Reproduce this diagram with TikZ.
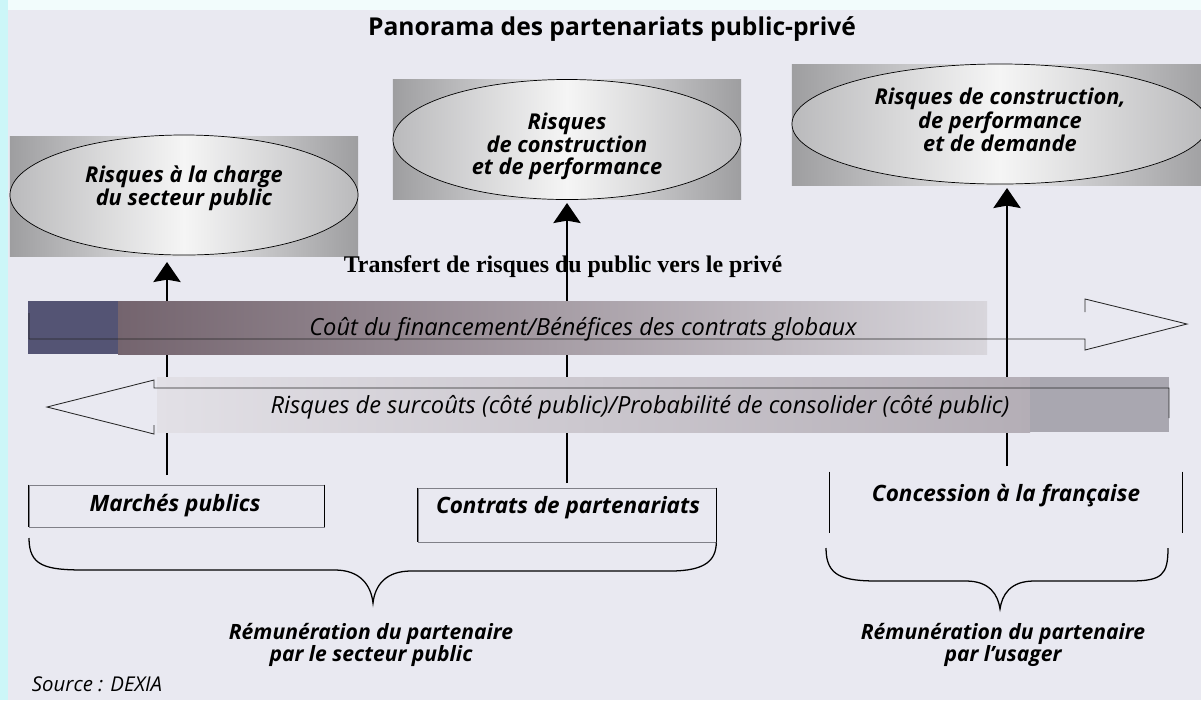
\documentclass[tikz,border=0pt]{standalone}
\usepackage{fontspec}
\setmainfont{Open Sans}
\newfontfamily\timesbold{Liberation Serif}
\usetikzlibrary{arrows.meta,shapes.geometric}

\definecolor{pagebg}{RGB}{233,233,241}
\definecolor{stripcyan}{RGB}{204,246,248}
\definecolor{stripwhite}{RGB}{242,252,252}
\definecolor{panelgrey}{RGB}{158,158,160}
\definecolor{panellight}{RGB}{232,232,234}
\definecolor{ovalgrey}{RGB}{186,186,188}
\definecolor{ovallight}{RGB}{245,245,245}
\definecolor{slate}{RGB}{84,84,116}
\definecolor{mauve}{RGB}{116,100,110}
\definecolor{fadegrey}{RGB}{216,214,220}
\definecolor{barlight}{RGB}{226,224,230}
\definecolor{bargrey}{RGB}{180,174,182}
\definecolor{bardark}{RGB}{169,167,176}
\definecolor{thingrey}{RGB}{128,128,136}

\newcommand\ovalfont{\fontsize{15.5}{15.3}\selectfont\bfseries\itshape}
\newcommand\barfont{\fontsize{16.8}{18}\selectfont\itshape}
\newcommand\slotfont{\fontsize{16}{16}\selectfont\bfseries\itshape}
\newcommand\remfont{\fontsize{15}{15.8}\selectfont\bfseries\itshape}

\begin{document}
\begin{tikzpicture}[x=0.025cm, y=-0.025cm,
  panel/.style={rectangle, inner sep=0pt, minimum height=2.975cm,
    left color=panelgrey, right color=panelgrey, middle color=panellight},
  oval/.style={ellipse, draw=black, line width=0.5pt, inner sep=0pt,
    minimum height=3cm, left color=ovalgrey, right color=ovalgrey,
    middle color=ovallight},
  ovaltext/.style={align=center, font=\ovalfont, inner sep=0pt},
  uparrow/.style={line width=1.3pt,
    -{Stealth[length=0.5cm, width=0.68cm, inset=0.06cm]}},
  barline/.style={line width=0.6pt, draw=black!85},
  bartext/.style={anchor=base, font=\barfont, inner sep=0pt},
  slot/.style={rectangle, draw=thingrey, line width=0.4pt, inner sep=0pt},
  side/.style={line width=0.8pt},
  slottext/.style={anchor=base, font=\slotfont, inner sep=0pt},
  remtext/.style={align=center, font=\remfont, inner sep=0pt},
  curly/.style={line width=0.9pt}]

\clip (0,0) rectangle (1201,700);
\fill[stripcyan] (0,0) rectangle (1201,700);
\fill[stripwhite] (8,0) rectangle (1201,10);
\fill[pagebg] (8,10) rectangle (1201,700);

\node[anchor=base, font=\fontsize{17.5}{20}\selectfont\bfseries] (title) at (612,35) {Panorama des partenariats public-privé};

% risk panels
\node[panel, minimum width=8.7cm] (p1) at (184,196.5) {};
\node[oval, minimum width=8.7cm] (e1) at (184,195) {};
\node[ovaltext] (e1t) at (184,188) {Risques à la charge\\du secteur public};
\node[panel, minimum width=8.7cm] (p2) at (567,139.5) {};
\node[oval, minimum width=8.7cm] (e2) at (567,139.5) {};
\node[ovaltext] (e2t) at (567,146) {Risques\\de construction\\et de performance};
\node[panel, minimum width=10.5cm, minimum height=3cm] (p3) at (1002,125) {};
\node[oval, minimum width=10.4cm] (e3) at (1000,124) {};
\node[ovaltext] (e3t) at (1000,120) {Risques de construction,\\de performance\\et de demande};

\node[anchor=base, font=\timesbold\fontsize{17}{20}\selectfont\bfseries] (transfert) at (563,272) {Transfert de risques du public vers le privé};

\coordinate (m1) at (167,475);
\coordinate (t1) at (167,262);
\coordinate (m2) at (567,483);
\coordinate (t2) at (567,203);
\coordinate (m3) at (1007,466);
\coordinate (t3) at (1007,188);
\draw[uparrow] (m1) -- (t1);
\draw[uparrow] (m2) -- (t2);
\draw[uparrow] (m3) -- (t3);

% upper bar
\fill[slate] (28,301) rectangle (118,354);
\shade[left color=mauve, right color=fadegrey] (118,301) rectangle (987,354);
\draw[barline] (29,313) -- (29,339) -- (1085,339) -- (1085,350) -- (1187,324) -- (1085,299) -- (1085,312);
\node[bartext] (cost) at (583,335) {Coût du financement/Bénéfices des contrats globaux};

% lower bar
\shade[left color=barlight, right color=bargrey] (157,377) rectangle (1030,432);
\fill[bardark] (1030,377) rectangle (1169,432);
\draw[barline] (1169,418) -- (1169,388) -- (154,388) -- (154,380) -- (47,407) -- (154,434) -- (154,425);
\node[bartext] (risk) at (640,413) {Risques de surcoûts (côté public)/Probabilité de consolider (côté public)};

% contract types
\node[slot, minimum width=7.375cm, minimum height=1.05cm] (mp) at (176.5,506) {};
\draw[side] (mp.north west) -- (mp.south west) (mp.north east) -- (mp.south east);
\node[slottext] (mpt) at (175,511) {Marchés publics};
\node[slot, minimum width=7.45cm, minimum height=1.35cm] (cp) at (567,515) {};
\draw[side] (cp.north west) -- (cp.south west) (cp.north east) -- (cp.south east);
\node[slottext] (cpt) at (568,513) {Contrats de partenariats};
\node[inner sep=0pt, minimum width=8.8cm, minimum height=1.525cm] (cc) at (1006,502.5) {};
\draw[side] (cc.north west) -- (cc.south west) (cc.north east) -- (cc.south east);
\node[slottext] (cct) at (1006,501) {Concession à la française};

\draw[curly] (29,538) .. controls (29,566) and (45,570) .. (85,570) -- (335,570)
  .. controls (360,570) and (371,585) .. (373,603)
  .. controls (375,585) and (386,571) .. (411,571) -- (670,571)
  .. controls (706,571) and (716,560) .. (cp.south east);
\draw[curly] (826,548) .. controls (826,576) and (842,581) .. (878,581) -- (966,581)
  .. controls (990,581) and (998,595) .. (1000,609)
  .. controls (1002,595) and (1010,581) .. (1034,581) -- (1130,581)
  .. controls (1162,581) and (1168,575) .. (1168,548);

\node[remtext] (pub) at (371,645) {Rémunération du partenaire\\par le secteur public};
\node[remtext] (usr) at (1003,645) {Rémunération du partenaire\\par l'usager};

\node[anchor=west, font=\fontsize{14.5}{16}\selectfont\itshape] (src) at (27,684) {Source : DEXIA};
\end{tikzpicture}
\end{document}
